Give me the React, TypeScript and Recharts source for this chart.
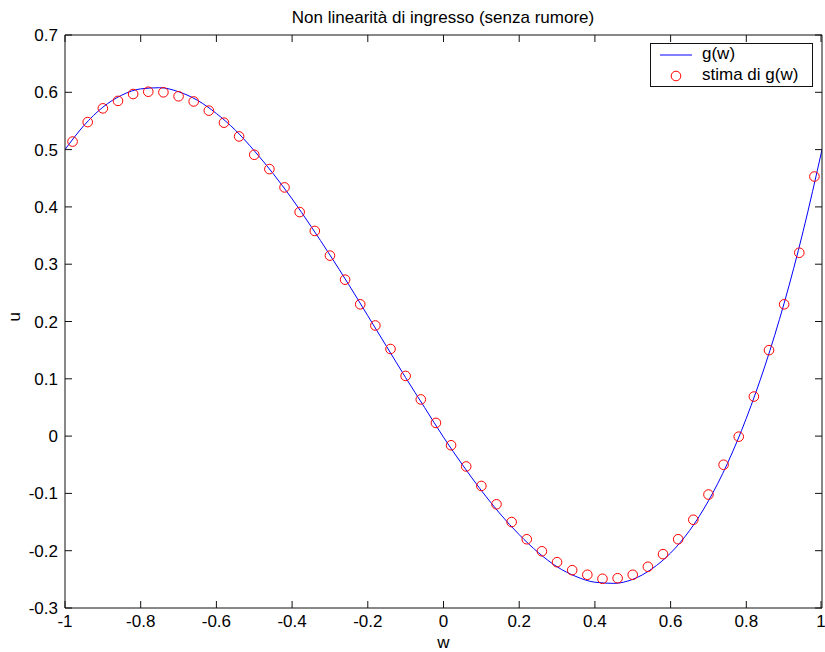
import { ComposedChart, Line, Scatter, XAxis, YAxis, Legend } from 'recharts'

// g(w)
const W_LINE = [
  -1, -0.95, -0.9, -0.85, -0.8, -0.75, -0.7, -0.65, -0.6, -0.55, -0.5,
  -0.45, -0.4, -0.35, -0.3, -0.25, -0.2, -0.15, -0.1, -0.05, 0,
  0.05, 0.1, 0.15, 0.2, 0.25, 0.3, 0.35, 0.4, 0.45, 0.5,
  0.55, 0.6, 0.65, 0.7, 0.75, 0.8, 0.85, 0.9, 0.95, 1,
]
const G_LINE = [
  0.5, 0.542, 0.574, 0.595, 0.606, 0.608, 0.601, 0.586, 0.563, 0.534, 0.498,
  0.458, 0.414, 0.366, 0.316, 0.264, 0.21, 0.156, 0.102, 0.05, -0.002,
  -0.05, -0.095, -0.136, -0.172, -0.203, -0.228, -0.245, -0.255, -0.257, -0.25,
  -0.232, -0.204, -0.165, -0.113, -0.048, 0.031, 0.124, 0.232, 0.357, 0.5,
]

// stima di g(w), red circles
const W_EST = [
  -0.98, -0.94, -0.9, -0.86, -0.82, -0.78, -0.74, -0.7, -0.66, -0.62,
  -0.58, -0.54, -0.5, -0.46, -0.42, -0.38, -0.34, -0.3, -0.26, -0.22,
  -0.18, -0.14, -0.1, -0.06, -0.02, 0.02, 0.06, 0.1, 0.14, 0.18,
  0.22, 0.26, 0.3, 0.34, 0.38, 0.42, 0.46, 0.5, 0.54, 0.58,
  0.62, 0.66, 0.7, 0.74, 0.78, 0.82, 0.86, 0.9, 0.94, 0.98,
]
const U_EST = [
  0.514, 0.548, 0.572, 0.585, 0.597, 0.601, 0.6, 0.593, 0.584, 0.568,
  0.547, 0.523, 0.491, 0.466, 0.434, 0.391, 0.358, 0.315, 0.273, 0.23,
  0.193, 0.152, 0.105, 0.064, 0.023, -0.016, -0.053, -0.087, -0.119, -0.15,
  -0.18, -0.201, -0.22, -0.234, -0.242, -0.249, -0.248, -0.242, -0.228, -0.206,
  -0.18, -0.146, -0.102, -0.05, -0.001, 0.069, 0.15, 0.23, 0.32, 0.453,
]

const X_TICKS = [-1, -0.8, -0.6, -0.4, -0.2, 0, 0.2, 0.4, 0.6, 0.8, 1]
const Y_TICKS = [-0.3, -0.2, -0.1, 0, 0.1, 0.2, 0.3, 0.4, 0.5, 0.6, 0.7]

const TITLE = 'Non linearità di ingresso (senza rumore)'
const LINE_NAME = 'g(w)'
const EST_NAME = 'stima di g(w)'

const FONT = '"Liberation Sans", Arial, Helvetica, sans-serif'
const FS = 17
const AXIS = '#111'
const TICK = 7

const lineData = W_LINE.map((w, i) => ({ w, g: G_LINE[i] }))
const estData = W_EST.map((w, i) => ({ w, u: U_EST[i] }))

const fmt = (v: number) => String(Math.round(v * 10) / 10)

function BottomTick({ x, y, payload }: any) {
  return (
    <g>
      <line x1={x} y1={y} x2={x} y2={y - TICK} stroke={AXIS} />
      <text x={x} y={y + 19} textAnchor="middle" fontFamily={FONT} fontSize={FS} fill="#000">
        {fmt(payload.value)}
      </text>
    </g>
  )
}

// top/right axes: inward tick marks only, like the matlab box
function TopTick({ x, y }: any) {
  return <line x1={x} y1={y} x2={x} y2={y + TICK} stroke={AXIS} />
}

function LeftTick({ x, y, payload }: any) {
  return (
    <g>
      <line x1={x} y1={y} x2={x + TICK} y2={y} stroke={AXIS} />
      <text x={x - 7} y={y} dy={6} textAnchor="end" fontFamily={FONT} fontSize={FS} fill="#000">
        {fmt(payload.value)}
      </text>
    </g>
  )
}

function RightTick({ x, y }: any) {
  return <line x1={x} y1={y} x2={x - TICK} y2={y} stroke={AXIS} />
}

function Circle({ cx, cy }: any) {
  return <circle cx={cx} cy={cy} r={4.8} fill="none" stroke="#ff0000" strokeWidth={1} />
}

function LegendBox() {
  return (
    <div
      style={{
        position: 'relative',
        width: 163,
        height: 44,
        boxSizing: 'border-box',
        border: `1px solid ${AXIS}`,
        background: '#fff',
        fontFamily: FONT,
        fontSize: FS,
        lineHeight: '20px',
      }}
    >
      <svg width={50} height={44} style={{ position: 'absolute', left: 0, top: 0 }}>
        <line x1={9} y1={11} x2={41} y2={11} stroke="#0000ff" />
        <circle cx={25} cy={32} r={4.8} fill="none" stroke="#ff0000" />
      </svg>
      <span style={{ position: 'absolute', left: 51, top: 0 }}>{LINE_NAME}</span>
      <span style={{ position: 'absolute', left: 51, top: 21 }}>{EST_NAME}</span>
    </div>
  )
}

export default function App() {
  return (
    <div style={{ position: 'absolute', left: 0, top: 0, width: 825, height: 652, background: '#fff' }}>
      <ComposedChart width={825} height={652} margin={{ top: 34, right: 2, bottom: 0, left: 0 }}>
        <text x={443} y={23} textAnchor="middle" fontFamily={FONT} fontSize={FS} fill="#000">
          {TITLE}
        </text>
        <XAxis
          dataKey="w"
          type="number"
          domain={[-1, 1]}
          ticks={X_TICKS}
          allowDataOverflow
          height={44}
          tickSize={0}
          tickMargin={0}
          tickLine={false}
          axisLine={{ stroke: AXIS }}
          tick={BottomTick}
          label={{ value: 'w', position: 'insideBottom', offset: 4, fontFamily: FONT, fontSize: FS, fill: '#000' }}
        />
        <XAxis
          xAxisId="top"
          dataKey="w"
          orientation="top"
          type="number"
          domain={[-1, 1]}
          ticks={X_TICKS}
          allowDataOverflow
          height={1}
          tickSize={0}
          tickMargin={0}
          tickLine={false}
          axisLine={{ stroke: AXIS }}
          tick={TopTick}
        />
        <YAxis
          type="number"
          domain={[-0.3, 0.7]}
          ticks={Y_TICKS}
          allowDataOverflow
          width={65}
          tickSize={0}
          tickMargin={0}
          tickLine={false}
          axisLine={{ stroke: AXIS }}
          tick={LeftTick}
          label={{ value: 'u', angle: -90, position: 'insideLeft', offset: 14, fontFamily: FONT, fontSize: FS, fill: '#000' }}
        />
        <YAxis
          yAxisId="right"
          orientation="right"
          type="number"
          domain={[-0.3, 0.7]}
          ticks={Y_TICKS}
          allowDataOverflow
          width={1}
          tickSize={0}
          tickMargin={0}
          tickLine={false}
          axisLine={{ stroke: AXIS }}
          tick={RightTick}
        />
        {/* invisible copy so the top/right box axes get a series */}
        <Line
          xAxisId="top"
          yAxisId="right"
          data={lineData}
          dataKey="g"
          stroke="none"
          dot={false}
          activeDot={false}
          legendType="none"
          isAnimationActive={false}
        />
        <Line
          data={lineData}
          dataKey="g"
          name={LINE_NAME}
          type="monotone"
          stroke="#0000ff"
          strokeWidth={1}
          dot={false}
          activeDot={false}
          isAnimationActive={false}
        />
        <Scatter
          data={estData}
          dataKey="u"
          name={EST_NAME}
          shape={Circle}
          isAnimationActive={false}
        />
        <Legend
          layout="horizontal"
          verticalAlign="middle"
          align="center"
          wrapperStyle={{ left: 650, top: 43, width: 163, height: 44 }}
          content={() => <LegendBox />}
        />
      </ComposedChart>
    </div>
  )
}
